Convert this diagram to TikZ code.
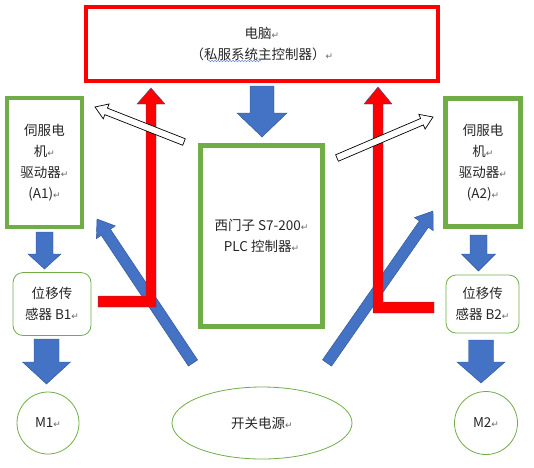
\documentclass[tikz,border=0pt]{standalone}
\usepackage{fontspec}
\setmainfont{Noto Sans CJK SC}
\newfontfamily\arrfont{DejaVu Sans}
\usetikzlibrary{calc,shapes.geometric,decorations.pathmorphing}
\definecolor{gr}{HTML}{70AD47}
\definecolor{bl}{HTML}{4472C4}
\definecolor{blo}{HTML}{2F528F}
\definecolor{tx}{HTML}{262626}
\newcommand\pmk{{\arrfont\fontsize{9}{9}\selectfont\color{black!60}↵}}
% #1 style, #2 tail, #3 tip, #4 shaft half width, #5 head half width, #6 head length
\newcommand\blockarr[6]{%
  \coordinate (bah) at ($(#3)!#6!(#2)$);
  \path[#1] ($(#2)!#4!90:(#3)$) -- ($(bah)!#4!90:(#3)$) -- ($(bah)!#5!90:(#3)$) -- (#3)
    -- ($(bah)!#5!-90:(#3)$) -- ($(bah)!#4!-90:(#3)$) -- ($(#2)!#4!-90:(#3)$) -- cycle;
}
\begin{document}
\begin{tikzpicture}[x=1pt,y=-1pt,
  font=\fontsize{13.5}{21}\selectfont,
  every node/.style={text=tx, align=center, inner sep=0pt},
  thickbox/.style={draw=gr, line width=4.5pt},
  thinbox/.style={draw=gr, line width=0.8pt},
  bluearr/.style={fill=bl, draw=blo, line width=0.4pt},
  whitearr/.style={fill=white, draw=black, line width=0.7pt},
  redarr/.style={fill=red, draw=blo, line width=0.4pt}]
\useasboundingbox (0,0) rectangle (534,467);

% nodes
\node[draw=red, line width=4pt, minimum width=352pt, minimum height=74pt] (pc) at (262,43.5)
  {电脑\pmk\\（私服系统主控制器）\pmk};
\node[thickbox, minimum width=75pt, minimum height=129pt] (a1) at (44.5,162.5)
  {伺服电\\机\pmk\\驱动器\pmk\\(A1)\pmk};
\node[thickbox, minimum width=75pt, minimum height=128pt] (a2) at (483,162.5)
  {伺服电\\机\pmk\\驱动器\pmk\\(A2)\pmk};
\node[draw=gr, line width=5.5pt, minimum width=122pt, minimum height=181pt] (plc) at (261.5,236)
  {西门子 S7-200\pmk\\PLC 控制器\pmk};
\node[thinbox, rounded corners=10pt, minimum width=78pt, minimum height=63pt] (b1) at (52,304)
  {位移传\\感器 B1\pmk};
\node[thinbox, rounded corners=10pt, minimum width=73pt, minimum height=58pt] (b2) at (482.5,304)
  {位移传\\感器 B2\pmk};
\node[thinbox, circle, minimum size=62pt] (m1) at (48,423) {M1\pmk};
\node[thinbox, circle, minimum size=63pt] (m2) at (486,423) {M2\pmk};
\node[thinbox, ellipse, minimum width=180pt, minimum height=72pt] (ps) at (262,423) {开关电源\pmk};

% spell-check underline
\draw[bl!80, line width=0.5pt, decorate, decoration={snake, amplitude=0.8pt, segment length=3pt}]
  (208,61) -- (261,61);

% arrow end points
\coordinate (pcT) at (262,86);   \coordinate (pcH) at (262,137);
\coordinate (a1T) at (44.5,232); \coordinate (a1H) at (44.5,269);
\coordinate (a2T) at (478.5,235); \coordinate (a2H) at (478.5,271);
\coordinate (b1T) at (46.5,339); \coordinate (b1H) at (46.5,384);
\coordinate (b2T) at (481,340);  \coordinate (b2H) at (481,383);
\coordinate (lT) at (193,363);   \coordinate (lH) at (97,219);
\coordinate (rT) at (327,363);   \coordinate (rH) at (433,211);
\coordinate (wlT) at (184,142);  \coordinate (wlH) at (95,107);
\coordinate (wrT) at (337,158);  \coordinate (wrH) at (433,117);

% blue arrows
\blockarr{bluearr}{pcT}{pcH}{12pt}{25pt}{24pt}
\blockarr{bluearr}{a1T}{a1H}{8.5pt}{16.5pt}{15pt}
\blockarr{bluearr}{a2T}{a2H}{8.5pt}{17pt}{17pt}
\blockarr{bluearr}{b1T}{b1H}{12.5pt}{24pt}{22pt}
\blockarr{bluearr}{b2T}{b2H}{12.5pt}{24pt}{21pt}
\blockarr{bluearr}{lT}{lH}{5.5pt}{11.5pt}{16pt}
\blockarr{bluearr}{rT}{rH}{5.5pt}{11.5pt}{16pt}

% red L-shaped arrows
\draw[redarr] (98,296) -- (146,296) -- (146,104) -- (137,104) -- (151,88) -- (165,104)
  -- (156,104) -- (156,307) -- (98,307) -- cycle;
\draw[redarr] (378,87) -- (392,104) -- (383,104) -- (383,302) -- (434,302) -- (434,313)
  -- (373,313) -- (373,104) -- (364,104) -- cycle;

% white arrows
\blockarr{whitearr}{wlT}{wlH}{3.5pt}{8pt}{12pt}
\blockarr{whitearr}{wrT}{wrH}{3.5pt}{8pt}{12pt}
\end{tikzpicture}
\end{document}
